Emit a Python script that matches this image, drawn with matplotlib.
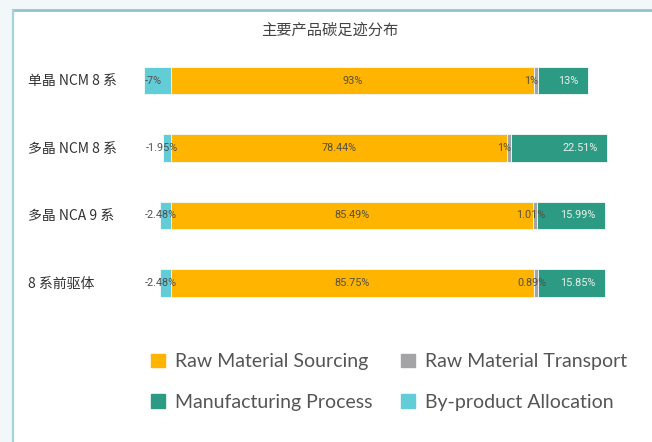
import matplotlib.pyplot as plt
import numpy as np
from matplotlib.patches import Rectangle, Patch

plt.rcParams['font.family'] = ['Noto Sans CJK SC', 'DejaVu Sans']

products = ['单晶 NCM 8 系', '多晶 NCM 8 系', '多晶 NCA 9 系', '8 系前驱体']
series = ['Raw Material Sourcing', 'Raw Material Transport',
          'Manufacturing Process', 'By-product Allocation']
sourcing = [93, 78.44, 85.49, 85.75]
transport = [1, 1, 1.01, 0.89]
manufacturing = [13, 22.51, 15.99, 15.85]
byproduct = [-7, -1.95, -2.48, -2.48]

colors = {
    'Raw Material Sourcing': '#FFB400',
    'Raw Material Transport': '#A4A4A6',
    'Manufacturing Process': '#2D9B84',
    'By-product Allocation': '#63CDD7',
}

W, H = 652, 442
fig = plt.figure(figsize=(W / 100, H / 100), dpi=100)

# page background, white card with a soft grey fade on the right
bg = fig.add_axes([0, 0, 1, 1], zorder=-1)
bg.axis('off')
bg.add_patch(Rectangle((0, 0), W, H, color='#F2F7F9'))
bg.add_patch(Rectangle((13, 10), W - 13, H - 10, color='white'))
xs = np.linspace(13, W, 400)
fade = 1 - 0.07 * np.clip((xs - 380) / (W - 380), 0, 1)
grad = np.tile(fade, (2, 1))
bg.imshow(grad, extent=(13, W, 318, 10), cmap='gray', vmin=0, vmax=1,
          aspect='auto', interpolation='bilinear')
bg.plot([13, W], [10, 10], color='#8EC5CD', lw=2)
bg.plot([13, 13], [10, H], color='#A6D2D9', lw=1.6)
bg.set_xlim(0, W)
bg.set_ylim(H, 0)

fig.text(330 / W, 1 - 30 / H, '主要产品碳足迹分布', ha='center', va='center',
         fontsize=11, color='#444444')

# bar area: zero sits at x=171 px, 4.445 px per percent of the absolute total
ax = fig.add_axes([121 / W, 1 - 316.75 / H, 500 / W, 270 / H])
ax.set_xlim(-50 / 4.445, 450 / 4.445)
ax.set_ylim(3.5, -0.5)
ax.axis('off')

y = np.arange(len(products))
bh = 0.41
lab_font = dict(family='Roboto', fontsize=7.8, va='center')
for i, name in enumerate(products):
    vals = [sourcing[i], transport[i], manufacturing[i], byproduct[i]]
    total = sum(abs(v) for v in vals)
    share = [v / total * 100 for v in vals]

    # negative allocation extends to the left of zero
    ax.barh(y[i], share[3], left=0, height=bh,
            color=colors['By-product Allocation'], edgecolor='#F4FBFB', lw=0.6)
    ax.text(share[3] / 2 - 1, y[i], f'{byproduct[i]:g}%', ha='center',
            color='#4F4F4F', **lab_font)

    left = 0
    for s, key, v in zip(share[:3], series[:3], vals[:3]):
        ax.barh(y[i], s, left=left, height=bh, color=colors[key],
                edgecolor='#F4FBFB', lw=0.6)
        if key == 'Manufacturing Process':
            ax.text(left + s - 2.2, y[i], f'{v:g}%', ha='right',
                    color='#E8F1EC', **lab_font)
        elif key == 'Raw Material Transport':
            ax.text(left + s / 2 - 1, y[i], f'{v:g}%', ha='center',
                    color='#55503F', **lab_font)
        else:
            ax.text(left + s / 2, y[i], f'{v:g}%', ha='center',
                    color='#55503F', **lab_font)
        left += s

    fig.text(28 / W, 1 - (81 + 67.5 * i) / H, name, ha='left', va='center',
             fontsize=10, color='#333333')

handles = [Patch(color=colors[k], label=k) for k in
           ['Raw Material Sourcing', 'Manufacturing Process',
            'Raw Material Transport', 'By-product Allocation']]
fig.legend(handles=handles, ncol=2, loc='center', frameon=False,
           bbox_to_anchor=(389 / W, 1 - 382 / H),
           prop={'family': 'Lato', 'size': 14}, labelcolor='#555555',
           handlelength=0.72, handleheight=0.72, handletextpad=0.5,
           columnspacing=1.5, labelspacing=1.2)

fig.savefig('out.png', dpi=100)
